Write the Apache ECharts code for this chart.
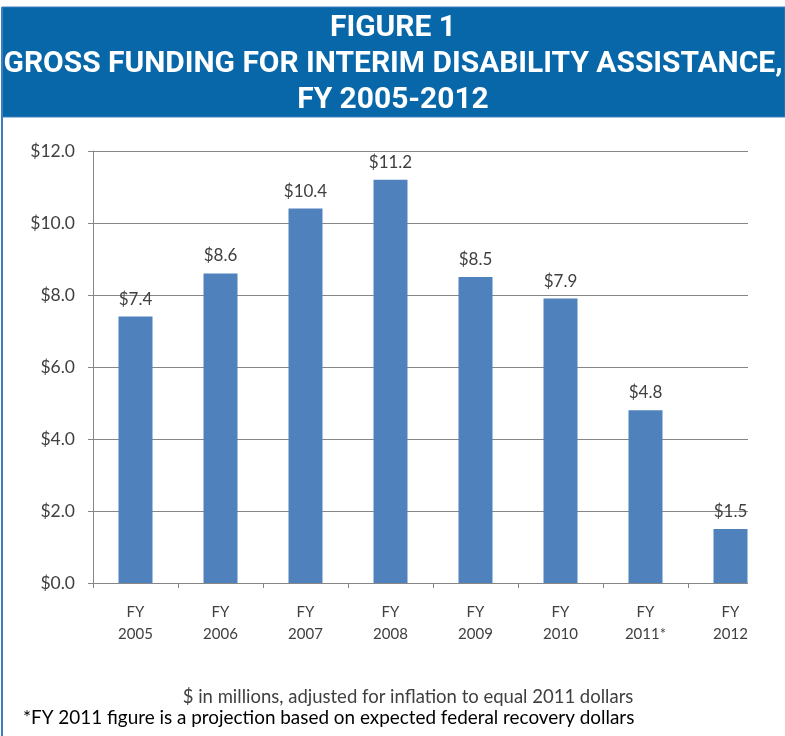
<!DOCTYPE html>
<html>
<head>
<meta charset="utf-8">
<script src="https://cdn.jsdelivr.net/npm/echarts@6/dist/echarts.min.js"></script>
<style>
html,body{margin:0;padding:0;background:#fff;}
#c{width:785px;height:736px;}
</style>
</head>
<body>
<div id="c"></div>
<script>
var categories = ['FY\n2005','FY\n2006','FY\n2007','FY\n2008','FY\n2009','FY\n2010','FY\n2011*','FY\n2012'];
var values = [7.4, 8.6, 10.4, 11.2, 8.5, 7.9, 4.8, 1.5];
var titleLines = ['FIGURE 1', 'GROSS FUNDING FOR INTERIM DISABILITY ASSISTANCE,', 'FY 2005-2012'];
var note1 = '$ in millions, adjusted for inflation to equal 2011 dollars';
var note2 = '*FY 2011 figure is a projection based on expected federal recovery dollars';

var FONT = 'Lato';
var TFONT_FAMILY = 'Roboto';
var TSIZE = 30;
var ctx = document.createElement('canvas').getContext('2d');
ctx.font = 'bold ' + TSIZE + 'px ' + TFONT_FAMILY;
var w2 = ctx.measureText(titleLines[1]).width || 900;
var sx = 779 / w2;

var chart = echarts.init(document.getElementById('c'), null, {renderer:'canvas'});

function titleText(t, y) {
  return {type: 'text', z: 101, x: 393, y: y, scaleX: sx, scaleY: 1,
    style: {text: t, x: 0, y: 0, align: 'center', verticalAlign: 'middle', fill: '#ffffff',
      fontFamily: TFONT_FAMILY, fontWeight: 'bold', fontSize: TSIZE}};
}

var option = {
  animation: false,
  backgroundColor: '#ffffff',
  grid: {left: 93, right: 12, top: 151, bottom: 153, containLabel: false},
  xAxis: {
    type: 'category',
    data: categories,
    axisLine: {show: true, lineStyle: {color: '#868686', width: 1}},
    axisTick: {show: true, length: 5, lineStyle: {color: '#868686'}},
    axisLabel: {color: '#404040', fontFamily: FONT, fontSize: 15, lineHeight: 22, margin: 18, interval: 0}
  },
  yAxis: {
    type: 'value',
    min: 0, max: 12, interval: 2,
    axisLine: {show: true, lineStyle: {color: '#868686', width: 1}},
    axisTick: {show: true, length: 5, lineStyle: {color: '#868686'}},
    splitLine: {show: true, lineStyle: {color: '#868686', width: 1}},
    axisLabel: {color: '#404040', fontFamily: FONT, fontSize: 17.5, margin: 18,
      formatter: function(v){ return '$' + v.toFixed(1); }}
  },
  series: [{
    type: 'bar',
    data: values,
    barWidth: 34,
    itemStyle: {color: '#4F81BD'},
    label: {show: true, position: 'top', distance: 9, color: '#404040', fontFamily: FONT, fontSize: 17,
      formatter: function(p){ return '$' + p.value.toFixed(1); }}
  }],
  graphic: [
    {type: 'rect', z: 100, shape: {x: 748, y: 140, width: 40, height: 460}, style: {fill: '#ffffff'}},
    {type: 'rect', z: 100, shape: {x: 2, y: 7, width: 783, height: 110}, style: {fill: '#0867A8', stroke: '#3C7FC0', lineWidth: 1}},
    {type: 'rect', z: 100, shape: {x: 1, y: 7, width: 2, height: 729}, style: {fill: '#3C7FC0'}},
    titleText(titleLines[0], 28),
    titleText(titleLines[1], 64),
    titleText(titleLines[2], 100),
    {type: 'text', z: 101, style: {text: note1, x: 408, y: 697, align: 'center', verticalAlign: 'middle', fill: '#404040', fontFamily: FONT, fontSize: 18.5}},
    {type: 'text', z: 101, style: {text: note2, x: 23, y: 718, align: 'left', verticalAlign: 'middle', fill: '#000000', fontFamily: FONT, fontSize: 18.9}}
  ]
};
chart.setOption(option);
</script>
</body>
</html>
